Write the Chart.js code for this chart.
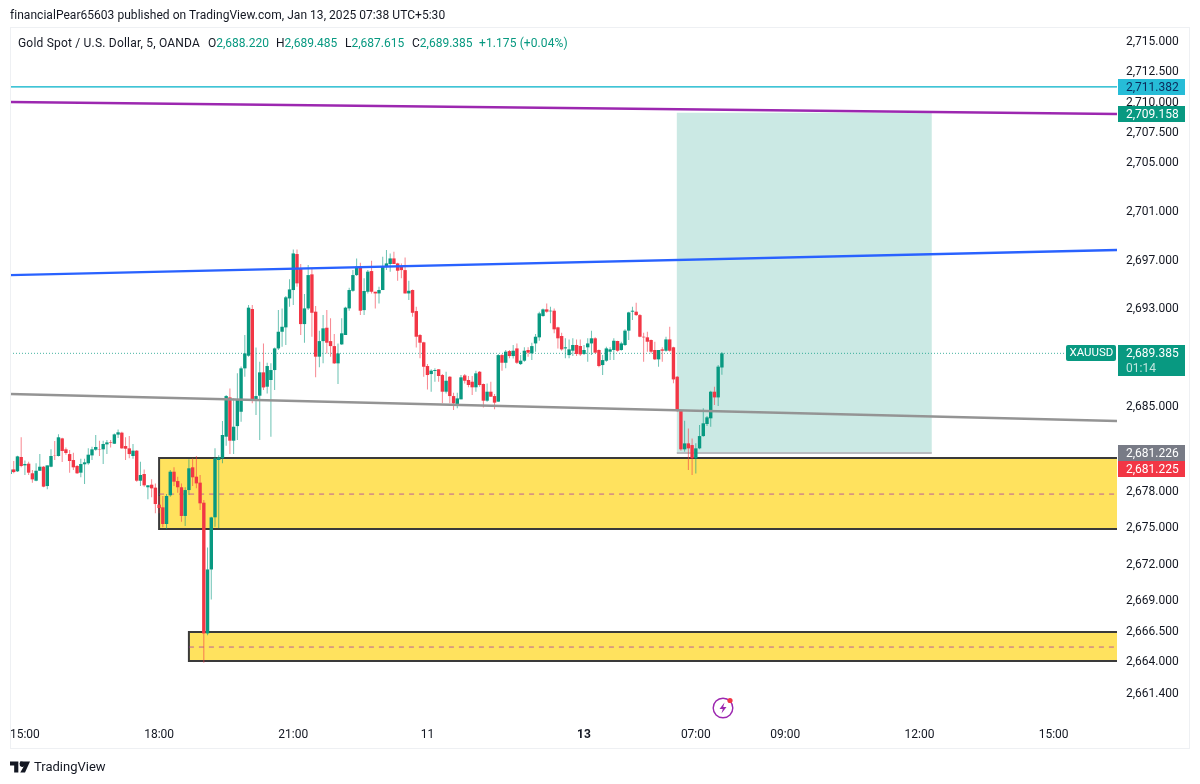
<!DOCTYPE html>
<html>
<head>
<meta charset="utf-8">
<title>Gold Spot / U.S. Dollar</title>
<script src="https://cdn.jsdelivr.net/npm/chart.js@4"></script>
<style>
  html, body { margin: 0; padding: 0; background: #fff; }
  body { width: 1200px; height: 784px; position: relative; overflow: hidden; font-family: Roboto, sans-serif; color: #131722; }
  canvas { position: absolute; left: 0; top: 0; }
  .txt { position: absolute; white-space: pre; font-size: 12px; line-height: 16px; }
  .up { color: #089981; }
</style>
</head>
<body>
<canvas id="goldChart" width="1200" height="784"></canvas>
<div class="txt" style="left:10px;top:7px;letter-spacing:0.04px">financialPear65603 published on TradingView.com, Jan 13, 2025 07:38 UTC+5:30</div>
<div class="txt" style="left:18px;top:35px;letter-spacing:0.2px">Gold Spot / U.S. Dollar, 5, OANDA</div>
<div class="txt" style="left:208px;top:35px">O<span class="up">2,688.220</span></div>
<div class="txt" style="left:276px;top:35px">H<span class="up">2,689.485</span></div>
<div class="txt" style="left:345px;top:35px">L<span class="up">2,687.615</span></div>
<div class="txt" style="left:412px;top:35px">C<span class="up">2,689.385</span></div>
<div class="txt up" style="left:479px;top:35px;letter-spacing:0.1px">+1.175 (+0.04%)</div>
<svg style="position:absolute;left:712px;top:696px" width="24" height="24" viewBox="0 0 24 24">
  <circle cx="11" cy="12" r="9.8" fill="none" stroke="#9c27b0" stroke-width="1.4"/>
  <path d="M12.5 6.5 L7.5 13 L10.8 13 L9.5 17.5 L14.5 11 L11.2 11 Z" fill="#9c27b0"/>
  <circle cx="18" cy="4.5" r="2.6" fill="#f23645"/>
</svg>
<svg style="position:absolute;left:10px;top:761px" width="20" height="12" viewBox="0 0 36 20">
  <path d="M0 0 H15 V20 H7.5 V7.5 H0 Z M18 0 H36 L27 20 H18.5 L26 7 A3.5 3.5 0 0 1 18 4 Z" fill="#131722"/>
  <circle cx="21" cy="3.7" r="3.7" fill="#131722"/>
</svg>
<div class="txt" style="left:34px;top:759px;font-size:13px">TradingView</div>

<script>
// prices, one entry per 5 minute candle
const candleOpen = [
  2679.46,2679.84,2679.68,2680.86,2680.17,2680.31,2679.52,2678.91,2679.73,2680.06,
  2678.47,2680.06,2680.99,2680.94,2682.39,2681.49,2681.10,2680.61,2680.12,2679.57,
  2680.26,2680.34,2680.99,2681.46,2681.49,2681.49,2681.90,2682.09,2681.95,2682.70,
  2682.86,2681.76,2681.57,2680.94,2681.38,2678.91,2679.46,2678.37,2678.58,2678.34,
  2676.94,2676.72,2675.35,2677.71,2679.65,2678.88,2678.37,2676.01,2678.14,2680.01,
  2679.24,2678.75,2677.10,2666.35,2671.61,2675.90,2680.61,2680.75,2682.53,2685.76,
  2682.20,2683.40,2684.58,2688.15,2689.19,2693.03,2685.60,2685.90,2687.82,2686.64,
  2687.19,2688.01,2689.79,2691.16,2691.52,2693.90,2694.59,2697.55,2696.37,2691.79,
  2693.08,2695.88,2692.81,2689.11,2690.39,2691.49,2690.39,2689.98,2688.56,2690.12,
  2690.89,2693.08,2694.53,2695.82,2696.51,2692.94,2694.45,2696.15,2694.45,2694.31,
  2694.59,2696.51,2696.73,2697.19,2696.78,2696.51,2696.23,2694.31,2694.59,2692.86,
  2690.89,2690.29,2688.34,2687.68,2687.93,2688.07,2687.60,2686.23,2687.46,2685.87,
  2685.22,2685.60,2687.57,2687.19,2687.05,2686.59,2687.87,2686.86,2685.49,2686.23,
  2685.87,2685.41,2689.24,2688.61,2689.57,2689.16,2689.79,2688.50,2688.78,2689.66,
  2689.38,2690.20,2690.70,2692.45,2693.00,2692.84,2692.89,2691.52,2690.81,2689.79,
  2689.24,2689.60,2690.07,2689.99,2689.33,2689.88,2690.20,2690.62,2689.66,2688.42,
  2688.78,2689.52,2689.66,2690.40,2689.66,2690.07,2691.25,2692.81,2692.81,2692.53,
  2690.75,2690.70,2690.48,2689.66,2688.89,2689.71,2689.60,2690.53,2689.88,2687.46,
  2684.67,2681.49,2681.98,2681.84,2680.75,2681.57,2682.58,2683.57,2684.04,2686.23,2685.76,2688.22
];
const candleHigh = [
  2680.01,2680.53,2680.97,2682.48,2680.58,2680.47,2679.79,2680.34,2681.10,2680.12,
  2680.17,2681.49,2682.17,2682.72,2682.45,2681.65,2681.43,2681.21,2680.20,2680.72,
  2680.72,2681.57,2681.71,2682.67,2682.20,2682.20,2682.26,2682.26,2682.80,2683.13,
  2682.94,2682.48,2682.58,2681.93,2681.43,2680.47,2679.84,2678.53,2679.02,2678.69,
  2677.65,2677.65,2677.82,2679.79,2680.01,2679.24,2678.69,2678.37,2680.67,2680.75,
  2680.94,2679.38,2677.32,2673.42,2675.94,2681.57,2681.00,2683.82,2685.96,2686.50,
  2685.68,2687.74,2688.30,2690.89,2693.36,2693.36,2689.87,2688.70,2690.20,2688.61,
  2688.56,2689.87,2692.94,2693.08,2694.10,2695.47,2697.93,2697.93,2696.73,2694.26,
  2696.64,2696.37,2693.27,2691.24,2692.53,2692.94,2692.26,2690.97,2690.20,2692.26,
  2693.22,2694.78,2696.23,2697.19,2696.84,2695.55,2696.23,2697.00,2694.45,2694.86,
  2697.33,2697.88,2697.60,2697.74,2696.84,2696.78,2697.27,2695.36,2694.64,2693.22,
  2690.97,2690.34,2688.50,2688.07,2688.15,2688.07,2687.68,2687.87,2687.52,2686.15,
  2686.15,2687.60,2687.68,2687.52,2687.52,2687.96,2687.93,2686.91,2686.91,2687.05,
  2686.04,2689.33,2689.33,2689.66,2689.66,2690.07,2690.20,2689.24,2689.88,2689.88,
  2690.26,2690.97,2692.81,2693.08,2693.49,2693.22,2693.08,2691.57,2691.08,2690.62,
  2690.53,2690.62,2690.53,2690.53,2690.07,2690.62,2691.25,2690.70,2689.71,2689.24,
  2689.93,2689.88,2690.62,2690.42,2690.34,2691.36,2692.81,2693.22,2693.55,2692.62,
  2691.08,2691.16,2690.53,2690.34,2689.66,2689.88,2690.75,2691.58,2689.93,2687.52,
  2684.67,2683.85,2683.21,2682.39,2681.98,2683.49,2684.86,2684.23,2686.31,2686.64,2688.42,2689.485
];
const candleLow = [
  2679.08,2679.52,2679.62,2680.01,2679.38,2679.38,2678.75,2678.86,2679.73,2678.37,
  2678.20,2680.01,2680.61,2680.89,2680.45,2681.05,2679.57,2679.79,2679.46,2679.19,
  2678.64,2680.23,2680.61,2681.38,2680.94,2680.28,2681.10,2681.65,2681.93,2682.42,
  2681.54,2680.61,2680.75,2680.72,2678.83,2678.47,2678.42,2677.38,2677.54,2676.23,
  2676.23,2675.08,2674.94,2677.60,2678.47,2677.92,2675.54,2675.18,2677.73,2678.47,
  2678.28,2676.50,2663.94,2666.21,2669.15,2675.13,2675.00,2680.34,2681.79,2681.10,
  2681.10,2682.25,2683.76,2687.46,2689.11,2685.27,2684.31,2682.25,2686.37,2686.09,
  2682.53,2686.37,2689.65,2689.93,2690.07,2693.22,2693.36,2694.86,2690.89,2690.26,
  2692.94,2690.75,2687.41,2688.23,2688.56,2689.38,2689.11,2688.50,2686.86,2690.07,
  2690.89,2692.89,2694.45,2695.74,2692.53,2692.53,2694.31,2694.31,2693.08,2693.49,
  2694.59,2696.23,2696.10,2696.73,2695.36,2695.55,2694.31,2693.77,2692.40,2689.87,
  2688.97,2687.46,2686.42,2686.23,2687.05,2687.05,2685.27,2686.09,2685.27,2684.72,
  2684.86,2685.60,2686.91,2686.59,2685.96,2686.23,2686.64,2684.94,2685.41,2685.82,
  2684.78,2685.41,2687.96,2688.15,2688.97,2688.97,2688.50,2688.42,2688.70,2689.11,
  2688.83,2689.52,2690.42,2692.40,2692.73,2691.85,2691.03,2689.79,2689.60,2688.97,
  2688.97,2689.16,2689.16,2689.16,2689.24,2688.70,2689.24,2689.38,2688.23,2687.60,
  2688.70,2688.83,2688.83,2689.52,2689.60,2689.98,2690.48,2692.12,2692.45,2690.70,
  2688.70,2689.52,2689.38,2688.83,2688.29,2688.70,2689.52,2689.52,2686.92,2684.59,
  2681.38,2681.30,2679.79,2679.38,2679.51,2681.49,2682.53,2683.41,2683.35,2685.13,2685.05,2687.615
];
const candleClose = [
  2679.84,2679.62,2680.91,2680.12,2680.28,2679.57,2679.02,2679.73,2680.06,2678.42,
  2680.17,2680.94,2680.97,2682.48,2681.35,2681.19,2680.53,2680.01,2679.52,2680.28,
  2680.42,2681.05,2681.49,2681.68,2681.46,2681.93,2682.06,2682.04,2682.72,2682.89,
  2681.57,2681.54,2681.10,2681.38,2678.91,2679.38,2678.53,2678.53,2678.28,2676.99,
  2676.66,2675.35,2677.65,2679.65,2678.83,2678.37,2676.01,2678.14,2679.93,2679.19,
  2678.69,2677.05,2666.35,2671.61,2675.89,2680.75,2680.83,2682.67,2685.87,2682.20,
  2683.35,2685.60,2688.15,2689.38,2693.14,2685.54,2685.87,2687.82,2686.58,2688.34,
  2688.01,2689.79,2691.16,2691.57,2693.99,2694.64,2697.60,2695.14,2691.79,2693.08,
  2695.82,2692.72,2689.11,2690.39,2691.44,2690.26,2689.98,2688.56,2689.38,2691.03,
  2693.14,2694.59,2695.82,2696.51,2692.89,2694.51,2696.10,2694.45,2694.31,2694.59,
  2696.51,2696.78,2697.19,2696.73,2696.18,2696.23,2694.31,2694.53,2692.72,2690.75,
  2690.26,2688.28,2687.60,2687.96,2688.01,2687.52,2686.23,2687.13,2685.87,2685.27,
  2685.68,2687.41,2687.13,2686.78,2686.59,2687.74,2686.78,2685.49,2686.23,2685.82,
  2685.33,2689.24,2688.61,2689.52,2689.16,2689.60,2688.61,2688.78,2689.60,2689.44,
  2689.98,2690.75,2692.67,2693.00,2692.81,2692.89,2691.36,2690.62,2689.71,2689.88,
  2689.71,2690.07,2689.33,2689.30,2689.66,2690.20,2690.62,2689.44,2688.34,2688.83,
  2689.79,2689.71,2690.42,2689.60,2690.20,2691.25,2692.75,2692.89,2692.53,2690.75,
  2690.70,2690.34,2689.52,2688.89,2689.66,2689.60,2690.53,2689.60,2687.24,2684.67,
  2681.49,2681.98,2681.57,2680.75,2681.57,2682.58,2683.63,2684.12,2686.23,2685.76,2688.29,2689.385
];

const yTicks = [2715, 2712.5, 2710, 2707.5, 2705, 2701, 2697, 2693, 2685, 2678, 2675, 2672, 2669, 2666.5, 2664, 2661.4];
const xTickValues = [4, 40, 76, 112, 154, 184, 208, 244, 280];
const xTickLabels = ['15:00', '18:00', '21:00', '11', '13', '07:00', '09:00', '12:00', '15:00'];

// drawings: two end values, left and right edge of the pane
const lineEnds = [0, 297];
const blueLine = [2695.82, 2697.88];
const grayLine = [2686.04, 2683.82];
const purpleLine = [2710.05, 2709.07];
const cyanLine = [2711.29, 2711.29];
const lastPriceLine = [2689.385, 2689.385];

// demand zones
const zoneStart = [40, 48];
const zoneTop = [2680.77, 2666.47];
const zoneBottom = [2674.94, 2664.08];
const zoneMid = [2677.81, 2665.23];

// target box of the long position
const targetStart = 178.9;
const targetEnd = 247.3;
const targetTop = 2709.17;
const targetBottom = 2681.19;

// labels on the price axis
const tagValues = [2711.29, 2709.07, 2689.385, 2681.226, 2681.226];
const tagTexts = ['2,711.382', '2,709.158', '2,689.385', '2,681.226', '2,681.225'];
const tagColors = ['#26bcd7', '#089981', '#089981', '#787b86', '#f23645'];
const tagInk = ['#0b2a5b', '#ffffff', '#ffffff', '#ffffff', '#ffffff'];
const tagShift = [0, 0, 0, 0, 16];

const UP = '#089981';
const DOWN = '#f23645';
const isUp = candleOpen.map((o, i) => candleClose[i] >= o);

function trend(ends, color, width, dash, order) {
  return {
    type: 'line',
    data: [{ x: lineEnds[0], y: ends[0] }, { x: lineEnds[1], y: ends[1] }],
    borderColor: color,
    borderWidth: width,
    borderDash: dash,
    pointRadius: 0,
    order: order
  };
}

const zonesPlugin = {
  id: 'zones',
  beforeDatasetsDraw(chart) {
    const { ctx, scales: { x, y }, chartArea } = chart;
    ctx.save();
    zoneStart.forEach((start, i) => {
      const left = x.getPixelForValue(start);
      const top = y.getPixelForValue(zoneTop[i]);
      const bottom = y.getPixelForValue(zoneBottom[i]);
      ctx.fillStyle = '#ffe25e';
      ctx.fillRect(left, top, chartArea.right - left, bottom - top);
      // open on the right, the zone runs on under the price axis
      ctx.strokeStyle = '#3a3a3a';
      ctx.lineWidth = 2;
      ctx.beginPath();
      ctx.moveTo(chartArea.right, top);
      ctx.lineTo(left, top);
      ctx.lineTo(left, bottom);
      ctx.lineTo(chartArea.right, bottom);
      ctx.stroke();
    });
    const tl = x.getPixelForValue(targetStart);
    const tr = x.getPixelForValue(targetEnd);
    const tt = y.getPixelForValue(targetTop);
    const tb = y.getPixelForValue(targetBottom);
    ctx.fillStyle = 'rgba(8, 153, 129, 0.21)';
    ctx.fillRect(tl, tt, tr - tl, tb - tt);
    ctx.fillStyle = '#b9bcc0';
    ctx.fillRect(tl, tb - 1, tr - tl, 2);
    ctx.restore();
  }
};

const tagsPlugin = {
  id: 'tags',
  afterDraw(chart) {
    const { ctx, scales: { y } } = chart;
    ctx.save();
    // pane frame
    ctx.strokeStyle = '#eef0f3';
    ctx.lineWidth = 1;
    ctx.strokeRect(10.5, 27.5, 1179, 721);
    ctx.font = '12px Roboto, sans-serif';
    ctx.textBaseline = 'middle';
    ctx.textAlign = 'left';
    tagValues.forEach((v, i) => {
      const mid = Math.round(y.getPixelForValue(v)) + tagShift[i];
      const isLast = i === 2;
      ctx.fillStyle = tagColors[i];
      ctx.fillRect(1118, mid - 8, 67, isLast ? 31 : 16);
      ctx.fillStyle = tagInk[i];
      ctx.fillText(tagTexts[i], 1126, mid + 0.5);
      if (isLast) {
        ctx.fillStyle = 'rgba(255,255,255,0.75)';
        ctx.fillText('01:14', 1126, mid + 15.5);
        ctx.fillStyle = tagColors[i];
        ctx.beginPath();
        ctx.roundRect(1066, mid - 8, 50, 16, 2);
        ctx.fill();
        ctx.fillStyle = '#ffffff';
        ctx.font = '11.5px Roboto, sans-serif';
        ctx.fillText('XAUUSD', 1069.5, mid + 0.5);
        ctx.font = '12px Roboto, sans-serif';
      }
    });
    ctx.restore();
  }
};

new Chart(document.getElementById('goldChart').getContext('2d'), {
  type: 'bar',
  data: {
    datasets: [
      // candle bodies
      {
        data: candleOpen.map((o, i) => ({ x: i, y: [o, candleClose[i]] })),
        backgroundColor: isUp.map(u => (u ? UP : DOWN)),
        barThickness: 3.4,
        grouped: false,
        inflateAmount: 0,
        order: 3
      },
      // wicks
      {
        data: candleLow.map((l, i) => ({ x: i, y: [l, candleHigh[i]] })),
        backgroundColor: isUp.map(u => (u ? 'rgba(8,153,129,0.6)' : 'rgba(242,54,69,0.6)')),
        barThickness: 1,
        grouped: false,
        inflateAmount: 0,
        order: 4
      },
      trend(lastPriceLine, 'rgba(8,153,129,0.75)', 1, [1, 2], 5),
      trend(cyanLine, '#00b0c8', 1.3, [], 2),
      trend(purpleLine, '#9c27b0', 2.4, [], 1),
      trend(blueLine, '#2962ff', 2.4, [], 1),
      trend(grayLine, '#949494', 2.4, [], 1),
      ...zoneMid.map((m, i) => ({
        type: 'line',
        data: [{ x: zoneStart[i], y: m }, { x: lineEnds[1], y: m }],
        borderColor: 'rgba(156,39,176,0.7)',
        borderWidth: 1,
        borderDash: [5, 5],
        pointRadius: 0,
        order: 5
      }))
    ]
  },
  options: {
    responsive: false,
    animation: false,
    events: [],
    layout: { padding: { left: 10, top: 28, right: 0, bottom: 0 } },
    plugins: {
      legend: { display: false },
      title: { display: false },
      tooltip: { enabled: false }
    },
    scales: {
      x: {
        type: 'linear',
        offset: false,
        min: lineEnds[0],
        max: lineEnds[1],
        grid: { display: false, drawTicks: false },
        border: { display: false },
        afterBuildTicks: scale => { scale.ticks = xTickValues.map(v => ({ value: v })); },
        afterFit: scale => { scale.height = 64; },
        ticks: {
          autoSkip: false,
          maxRotation: 0,
          padding: 8,
          color: '#131722',
          font: ctx => ({ family: 'Roboto, sans-serif', size: 12, weight: ctx.index === 4 ? 'bold' : 'normal' }),
          callback: (value, index) => xTickLabels[index]
        }
      },
      y: {
        type: 'linear',
        position: 'right',
        min: 2659.23,
        max: 2716.14,
        grid: { display: false, drawTicks: false },
        border: { display: false },
        afterBuildTicks: scale => { scale.ticks = yTicks.map(v => ({ value: v })); },
        afterFit: scale => { scale.width = 83; },
        ticks: {
          autoSkip: false,
          padding: 9,
          color: '#131722',
          font: { family: 'Roboto, sans-serif', size: 12 },
          callback: value => value.toLocaleString('en-US', { minimumFractionDigits: 3, maximumFractionDigits: 3 })
        }
      }
    }
  },
  plugins: [zonesPlugin, tagsPlugin]
});
</script>
</body>
</html>
